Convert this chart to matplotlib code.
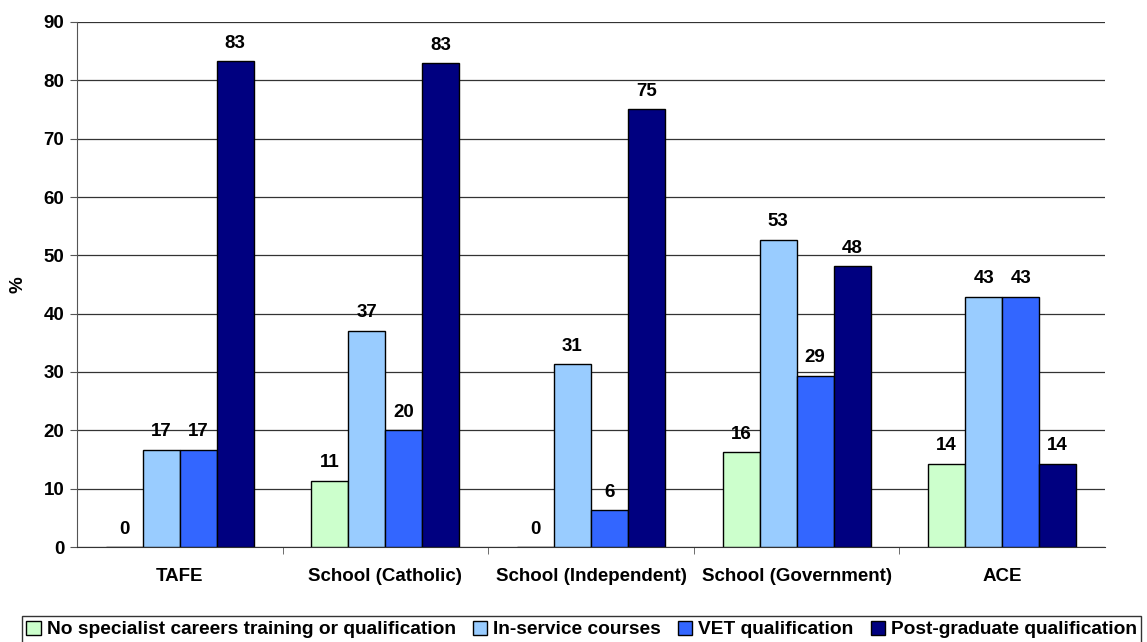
import numpy as np
import matplotlib.pyplot as plt

plt.rcParams['font.family'] = ['Liberation Sans', 'DejaVu Sans']
plt.rcParams['font.weight'] = 'bold'

categories = ["TAFE", "School (Catholic)", "School (Independent)", "School (Government)", "ACE"]
series_names = ["No specialist careers training or qualification", "In-service courses",
                "VET qualification", "Post-graduate qualification"]
no_specialist = [0, 11.4, 0, 16.3, 14.3]
in_service = [16.7, 37.1, 31.3, 52.7, 42.9]
vet = [16.7, 20.0, 6.3, 29.4, 42.9]
post_grad = [83.3, 82.9, 75.0, 48.1, 14.3]
colors = ["#CCFFCC", "#99CCFF", "#3366FF", "#000080"]

fig = plt.figure(figsize=(11.47, 6.42), dpi=100)
ax = fig.add_axes([77 / 1147, 1 - 547 / 642, (1105 - 77) / 1147, (547 - 22) / 642])

x = np.arange(len(categories))
w = 0.18
all_series = [no_specialist, in_service, vet, post_grad]
for i, (vals, col, name) in enumerate(zip(all_series, colors, series_names)):
    pos = x + (i - 1.5) * w
    ax.bar(pos, vals, width=w, color=col, edgecolor="black", linewidth=1.0, label=name, zorder=3)
    for px, v in zip(pos, vals):
        ax.text(px, v + 1.6, f"{v:.0f}", ha="center", va="bottom", fontsize=13.5, fontweight="bold")

ax.set_xlim(-0.5, len(categories) - 0.5)
ax.set_ylim(0, 90)
ax.set_yticks(range(0, 91, 10))
ax.yaxis.grid(True, color="#333333", linewidth=0.9, zorder=0)
ax.set_xticks(x)
ax.set_xticklabels(categories, fontsize=13.5, fontweight="bold")
ax.set_xticks(np.arange(0.5, len(categories) - 0.5, 1), minor=True)
ax.tick_params(axis="x", which="major", length=0, pad=15)
ax.tick_params(axis="x", which="minor", length=5, color="#555555")
ax.tick_params(axis="y", length=5, color="#555555", labelsize=13.5, pad=4)
for lab in ax.get_yticklabels():
    lab.set_fontweight("bold")
ax.set_ylabel("%", fontsize=13.5, fontweight="bold", labelpad=12)

for s in ["top", "right"]:
    ax.spines[s].set_visible(False)
ax.spines["left"].set_color("#555555")
ax.spines["bottom"].set_color("#333333")

leg = fig.legend(loc="lower center", bbox_to_anchor=(0.507, -0.002), ncol=4, fontsize=13.8,
                 frameon=True, fancybox=False, edgecolor="black", handlelength=0.75, handleheight=0.75,
                 handletextpad=0.3, columnspacing=0.9, borderpad=0.25, borderaxespad=0)
leg.get_frame().set_linewidth(1.0)

fig.savefig("out.png", dpi=100)
